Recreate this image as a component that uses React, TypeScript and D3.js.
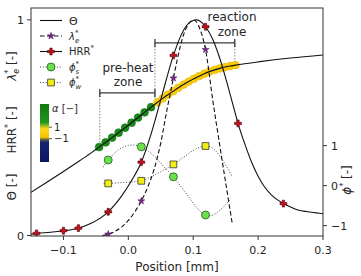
import React from 'react';
import * as d3 from 'd3';

// normalised temperature across the flame
const thetaX = [-0.15, -0.125, -0.1, -0.075, -0.055, -0.045, -0.035, -0.025, -0.015, -0.005, 0.005, 0.015, 0.025, 0.035,
  0.045, 0.053, 0.061, 0.069, 0.077, 0.085, 0.093, 0.101, 0.109, 0.117, 0.125, 0.133, 0.141, 0.149, 0.157, 0.165,
  0.2, 0.25, 0.3];
const thetaY = [0.2, 0.248, 0.297, 0.347, 0.388, 0.41, 0.432, 0.454, 0.477, 0.5, 0.523, 0.547, 0.571, 0.595,
  0.618, 0.636, 0.653, 0.669, 0.685, 0.7, 0.714, 0.727, 0.739, 0.75, 0.76, 0.768, 0.775, 0.781, 0.786, 0.79,
  0.805, 0.823, 0.837];
const thetaPreheatX = [-0.045, -0.035, -0.025, -0.015, -0.005, 0.005, 0.015, 0.025, 0.035];
const thetaReactionX = [0.045, 0.053, 0.061, 0.069, 0.077, 0.085, 0.093, 0.101, 0.109, 0.117, 0.125, 0.133, 0.141, 0.149, 0.157, 0.165];
const alphaPreheat = 3;
const alphaReaction = 0;

// heat release rate
const hrrX = [-0.15, -0.1415, -0.12, -0.1, -0.077, -0.055, -0.031, -0.01, 0.005, 0.02, 0.035, 0.05, 0.0695, 0.08, 0.09,
  0.1, 0.105, 0.11, 0.119, 0.13, 0.14, 0.15, 0.16, 0.169, 0.18, 0.19, 0.2, 0.21, 0.22, 0.23, 0.239, 0.25, 0.26,
  0.27, 0.28, 0.29, 0.3];
const hrrY = [0.006, 0.01, 0.015, 0.022, 0.034, 0.06, 0.11, 0.185, 0.255, 0.34, 0.47, 0.63, 0.835, 0.92, 0.975,
  0.997, 1.0, 0.995, 0.968, 0.91, 0.83, 0.73, 0.62, 0.52, 0.42, 0.34, 0.275, 0.225, 0.19, 0.165, 0.148, 0.132, 0.119,
  0.113, 0.109, 0.105, 0.101];
const hrrMarkX = [-0.1415, -0.1, -0.077, -0.031, 0.02, 0.0695, 0.119, 0.169, 0.239];

// lambda_e
const lamX = [-0.04, -0.031, -0.02, -0.01, 0, 0.01, 0.02, 0.03, 0.04, 0.05, 0.06, 0.0695, 0.075, 0.085, 0.095, 0.1,
  0.105, 0.11, 0.119, 0.13, 0.14, 0.15, 0.16];
const lamY = [0, 0.006, 0.02, 0.04, 0.07, 0.11, 0.16, 0.225, 0.31, 0.43, 0.59, 0.73, 0.81, 0.93, 0.99, 1.0,
  0.99, 0.96, 0.862, 0.63, 0.435, 0.245, 0.058];
const markX = [-0.031, 0.02, 0.0695, 0.119];

// phi_s and phi_w (right axis)
const phiSX = [-0.039, -0.031, -0.02, -0.01, 0, 0.008, 0.014, 0.02, 0.03, 0.043, 0.056, 0.0695, 0.082, 0.094, 0.106,
  0.119, 0.127, 0.135, 0.145, 0.152, 0.158];
const phiSY = [0.46, 0.64, 0.83, 0.95, 1.0, 1.015, 1.0, 0.97, 0.87, 0.69, 0.45, 0.22, -0.04, -0.3, -0.56,
  -0.735, -0.75, -0.69, -0.56, -0.44, -0.32];
const phiWX = [-0.038, -0.031, -0.015, 0, 0.02, 0.035, 0.05, 0.0695, 0.085, 0.1, 0.11, 0.119, 0.126, 0.135, 0.145,
  0.152, 0.16];
const phiWY = [0.055, 0.055, 0.07, 0.085, 0.12, 0.22, 0.35, 0.53, 0.71, 0.88, 0.96, 0.99, 0.97, 0.86, 0.64,
  0.46, 0.22];

// zone limits and bracket heights (left axis units)
const zoneEdges = [-0.044, 0.041, 0.164];
const preheatBracketY = 0.661;
const reactionBracketY = 0.893;

const xTicks = [-0.1, 0, 0.1, 0.2, 0.3];
const leftTicks = [0, 1];
const rightTicks = [-1, 0, 1];
const alphaTicks = [1, -1];
const alphaStops = [-5, -1.6, -1.05, -0.75, 0.7, 1.3, 1.8, 5];
const alphaColors = ['#0c1660', '#142572', '#7a6a3a', '#f2c400', '#ffd61a', '#8ab81e', '#22961e', '#0d7a10'];

const FONT = 'DejaVu Sans, sans-serif';
const INK = '#262626';

const pts = (xs: number[], ys: number[]) => xs.map((x, i) => [x, ys[i]] as [number, number]);
const at = (xs: number[], ys: number[], v: number) => ys[xs.findIndex((t) => Math.abs(t - v) < 1e-9)];
const thetaAt = (v: number) => {
  const i = d3.bisectLeft(thetaX, v);
  const t = (v - thetaX[i - 1]) / (thetaX[i] - thetaX[i - 1]);
  return thetaY[i - 1] + t * (thetaY[i] - thetaY[i - 1]);
};
const minus = (v: number) => (v < 0 ? '\u2212' + Math.abs(v) : String(v));

export default function App() {
  const x = d3.scaleLinear().domain([-0.15, 0.3]).range([31, 323]);
  const yL = d3.scaleLinear().domain([0, 1.055]).range([235.5, 8]);
  const yR = d3.scaleLinear().domain([-1.26, 4.44]).range([236, 8]);
  const cb = d3.scaleLinear().domain([-5, 5]).range([162, 104]);
  const alphaColor = d3.scaleLinear<string>().domain(alphaStops).range(alphaColors);

  const lineL = d3.line<[number, number]>().x((d) => x(d[0])).y((d) => yL(d[1])).curve(d3.curveMonotoneX);
  const lineR = d3.line<[number, number]>().x((d) => x(d[0])).y((d) => yR(d[1])).curve(d3.curveMonotoneX);

  const star = d3.symbol().type(d3.symbolStar).size(15)()!;
  const cross = d3.symbol().type(d3.symbolCross).size(26)()!;
  const square = d3.symbol().type(d3.symbolSquare).size(46)()!;

  const starEl = (cx: number, cy: number, k: string) => (
    <path key={k} d={star} transform={`translate(${cx},${cy})`} fill="#7d2a8c" stroke="#3a0a48" strokeWidth={0.5} />
  );
  const crossEl = (cx: number, cy: number, k: string) => (
    <path key={k} d={cross} transform={`translate(${cx},${cy})`} fill="#c8101c" stroke="#4a0008" strokeWidth={0.6} />
  );
  const circleEl = (cx: number, cy: number, k: string) => (
    <circle key={k} cx={cx} cy={cy} r={4} fill="#6ae04a" stroke="#1e5a1e" strokeWidth={0.8} />
  );
  const squareEl = (cx: number, cy: number, k: string) => (
    <path key={k} d={square} transform={`translate(${cx},${cy})`} fill="#f2ee12" stroke="#333" strokeWidth={0.8} />
  );

  const fmt = (v: number) => (v === 0 ? '0.0' : d3.format('.1f')(v).replace('-', '\u2212'));

  const legendRows = [20.5, 36, 51.5, 67, 82.5];
  const lx0 = 40, lx1 = 62, lxm = 51, ltx = 69;

  return (
    <svg width={361} height={276} style={{ position: 'absolute', left: 0, top: 0, background: '#fff' }}
      fontFamily={FONT}>
      <defs>
        <linearGradient id="alphaBar" gradientUnits="userSpaceOnUse" x1={0} x2={0} y1={cb(-5)} y2={cb(5)}>
          {alphaStops.map((a, i) => (
            <stop key={i} offset={(a + 5) / 10} stopColor={alphaColors[i]} />
          ))}
        </linearGradient>
        <clipPath id="plot">
          <rect x={31} y={8} width={292} height={228} />
        </clipPath>
      </defs>

      {/* zone guides */}
      <g stroke="#888" strokeWidth={1} strokeDasharray="1.5,1.5" fill="none">
        <line x1={x(zoneEdges[0])} x2={x(zoneEdges[0])} y1={yL(preheatBracketY)} y2={yL(thetaAt(zoneEdges[0]))} />
        <line x1={x(zoneEdges[1])} x2={x(zoneEdges[1])} y1={yL(reactionBracketY)} y2={yL(thetaAt(zoneEdges[1]))} />
        <line x1={x(zoneEdges[2])} x2={x(zoneEdges[2])} y1={yL(reactionBracketY)} y2={yL(thetaAt(zoneEdges[2]))} />
      </g>
      <g stroke="#3a3a3a" strokeWidth={1.3} fill="none">
        <line x1={x(zoneEdges[0])} x2={x(zoneEdges[1])} y1={yL(preheatBracketY)} y2={yL(preheatBracketY)} />
        <line x1={x(zoneEdges[0])} x2={x(zoneEdges[0])} y1={yL(preheatBracketY) - 4} y2={yL(preheatBracketY) + 4} />
        <line x1={x(zoneEdges[1])} x2={x(zoneEdges[1])} y1={yL(preheatBracketY) - 4} y2={yL(preheatBracketY) + 4} />
        <line x1={x(zoneEdges[1])} x2={x(zoneEdges[2])} y1={yL(reactionBracketY)} y2={yL(reactionBracketY)} />
        <line x1={x(zoneEdges[1])} x2={x(zoneEdges[1])} y1={yL(reactionBracketY) - 4} y2={yL(reactionBracketY) + 4} />
        <line x1={x(zoneEdges[2])} x2={x(zoneEdges[2])} y1={yL(reactionBracketY) - 4} y2={yL(reactionBracketY) + 4} />
      </g>
      <g fill={INK} fontSize={12} textAnchor="middle">
        <text x={128} y={72}>pre-heat</text>
        <text x={128} y={86}>zone</text>
        <text x={232} y={21}>reaction</text>
        <text x={232} y={35.5}>zone</text>
      </g>

      <g clipPath="url(#plot)">
        {/* phi curves */}
        <path d={lineR(pts(phiSX, phiSY))!} fill="none" stroke="#444" strokeWidth={1} strokeDasharray="1,1.8" />
        <path d={lineR(pts(phiWX, phiWY))!} fill="none" stroke="#444" strokeWidth={1} strokeDasharray="1,1.8" />
        {/* theta with markers coloured by alpha */}
        {thetaPreheatX.map((v, i) => {
          const c = alphaColor(alphaPreheat);
          return <circle key={'g' + i} cx={x(v)} cy={yL(at(thetaX, thetaY, v))} r={3.9} fill={c}
            stroke={d3.color(c)!.darker(0.7).toString()} strokeWidth={0.6} />;
        })}
        {thetaReactionX.map((v, i) => {
          const c = alphaColor(alphaReaction);
          return <circle key={'y' + i} cx={x(v)} cy={yL(at(thetaX, thetaY, v))} r={3.9} fill={c}
            stroke={d3.color(c)!.darker(0.3).toString()} strokeWidth={0.6} />;
        })}
        <path d={lineL(pts(thetaX, thetaY))!} fill="none" stroke="#111" strokeWidth={1.1} />
        <path d={lineL(pts(lamX, lamY))!} fill="none" stroke="#111" strokeWidth={1.1} strokeDasharray="4.5,2.5" />
        <path d={lineL(pts(hrrX, hrrY))!} fill="none" stroke="#111" strokeWidth={1.1} />
        {markX.map((v, i) => circleEl(x(v), yR(at(phiSX, phiSY, v)), 's' + i))}
        {markX.map((v, i) => squareEl(x(v), yR(at(phiWX, phiWY, v)), 'w' + i))}
        {markX.map((v, i) => starEl(x(v), yL(at(lamX, lamY, v)), 'l' + i))}
        {hrrMarkX.map((v, i) => crossEl(x(v), yL(at(hrrX, hrrY, v)), 'h' + i))}
      </g>

      {/* legend */}
      <g fontSize={10} fill={INK}>
        <line x1={lx0} x2={lx1} y1={legendRows[0]} y2={legendRows[0]} stroke="#111" strokeWidth={1.1} />
        <text x={ltx} y={legendRows[0] + 4.5} fontSize={11}>Θ</text>

        <line x1={lx0} x2={lx1} y1={legendRows[1]} y2={legendRows[1]} stroke="#111" strokeWidth={1.1} strokeDasharray="4.5,2.5" />
        {starEl(lxm, legendRows[1], 'ls')}
        <text x={ltx} y={legendRows[1] + 3.5}>
          <tspan fontStyle="italic">λ</tspan>
          <tspan dy={-5} fontSize={7}>*</tspan>
          <tspan dx={-3.5} dy={8} fontSize={7} fontStyle="italic">e</tspan>
        </text>

        <line x1={lx0} x2={lx1} y1={legendRows[2]} y2={legendRows[2]} stroke="#111" strokeWidth={1.1} />
        {crossEl(lxm, legendRows[2], 'lh')}
        <text x={ltx} y={legendRows[2] + 3.5}>
          HRR<tspan dy={-5} fontSize={7}>*</tspan>
        </text>

        <line x1={lx0} x2={lx1} y1={legendRows[3]} y2={legendRows[3]} stroke="#444" strokeWidth={1} strokeDasharray="1,1.8" />
        {circleEl(lxm, legendRows[3], 'lc')}
        <text x={ltx} y={legendRows[3] + 3.5}>
          <tspan fontStyle="italic">ϕ</tspan>
          <tspan dy={-5} fontSize={7}>*</tspan>
          <tspan dx={-3.5} dy={8} fontSize={7} fontStyle="italic">s</tspan>
        </text>

        <line x1={lx0} x2={lx1} y1={legendRows[4]} y2={legendRows[4]} stroke="#444" strokeWidth={1} strokeDasharray="1,1.8" />
        {squareEl(lxm, legendRows[4], 'lq')}
        <text x={ltx} y={legendRows[4] + 3.5}>
          <tspan fontStyle="italic">ϕ</tspan>
          <tspan dy={-5} fontSize={7}>*</tspan>
          <tspan dx={-3.5} dy={8} fontSize={7} fontStyle="italic">w</tspan>
        </text>
      </g>

      {/* alpha colour bar */}
      <rect x={40} y={cb(5)} width={9} height={cb(-5) - cb(5)} fill="url(#alphaBar)" />
      <g stroke={INK} strokeWidth={0.8}>
        {alphaTicks.map((a) => <line key={a} x1={49} x2={52} y1={cb(a)} y2={cb(a)} />)}
      </g>
      <g fontSize={10} fill={INK}>
        {alphaTicks.map((a) => (
          <text key={a} x={54} y={cb(a) + 3.5}>{minus(a)}</text>
        ))}
        <text x={52} y={111.5}><tspan fontStyle="italic">α</tspan> [−]</text>
      </g>

      {/* frame and axes */}
      <rect x={31} y={8} width={292} height={228} fill="none" stroke="#333" strokeWidth={1} />
      <g stroke="#333" strokeWidth={1}>
        {xTicks.map((t) => <line key={t} x1={x(t)} x2={x(t)} y1={236} y2={240} />)}
        {leftTicks.map((t) => <line key={t} x1={27} x2={31} y1={yL(t)} y2={yL(t)} />)}
        {rightTicks.map((t) => <line key={t} x1={323} x2={327} y1={yR(t)} y2={yR(t)} />)}
      </g>
      <g fontSize={11} fill={INK}>
        {xTicks.map((t) => <text key={t} x={x(t)} y={254} textAnchor="middle">{fmt(t)}</text>)}
        {leftTicks.map((t) => <text key={t} x={24} y={yL(t) + 4} textAnchor="end">{t}</text>)}
        {rightTicks.map((t) => (
          <text key={t} x={331} y={yR(t) + 4}>{minus(t)}</text>
        ))}
      </g>
      <text x={177} y={271} fontSize={12} fill={INK} textAnchor="middle">Position [mm]</text>

      {/* axis titles */}
      <g fontSize={12} fill={INK} textAnchor="middle">
        <text transform="translate(16,187) rotate(-90)">Θ [-]</text>
        <text transform="translate(16,130) rotate(-90)">
          HRR<tspan dy={-5} fontSize={8}>*</tspan><tspan dy={5}> [-]</tspan>
        </text>
        <text transform="translate(16,66) rotate(-90)">
          <tspan fontStyle="italic">λ</tspan>
          <tspan dy={-5} fontSize={8}>*</tspan>
          <tspan dx={-4} dy={8} fontSize={8} fontStyle="italic">e</tspan>
          <tspan dy={-3}> [-]</tspan>
        </text>
        <text transform="translate(351,180) rotate(-90)">
          <tspan fontStyle="italic">ϕ</tspan>
          <tspan dy={-5} fontSize={8}>*</tspan>
          <tspan dy={5}> [-]</tspan>
        </text>
      </g>
    </svg>
  );
}
